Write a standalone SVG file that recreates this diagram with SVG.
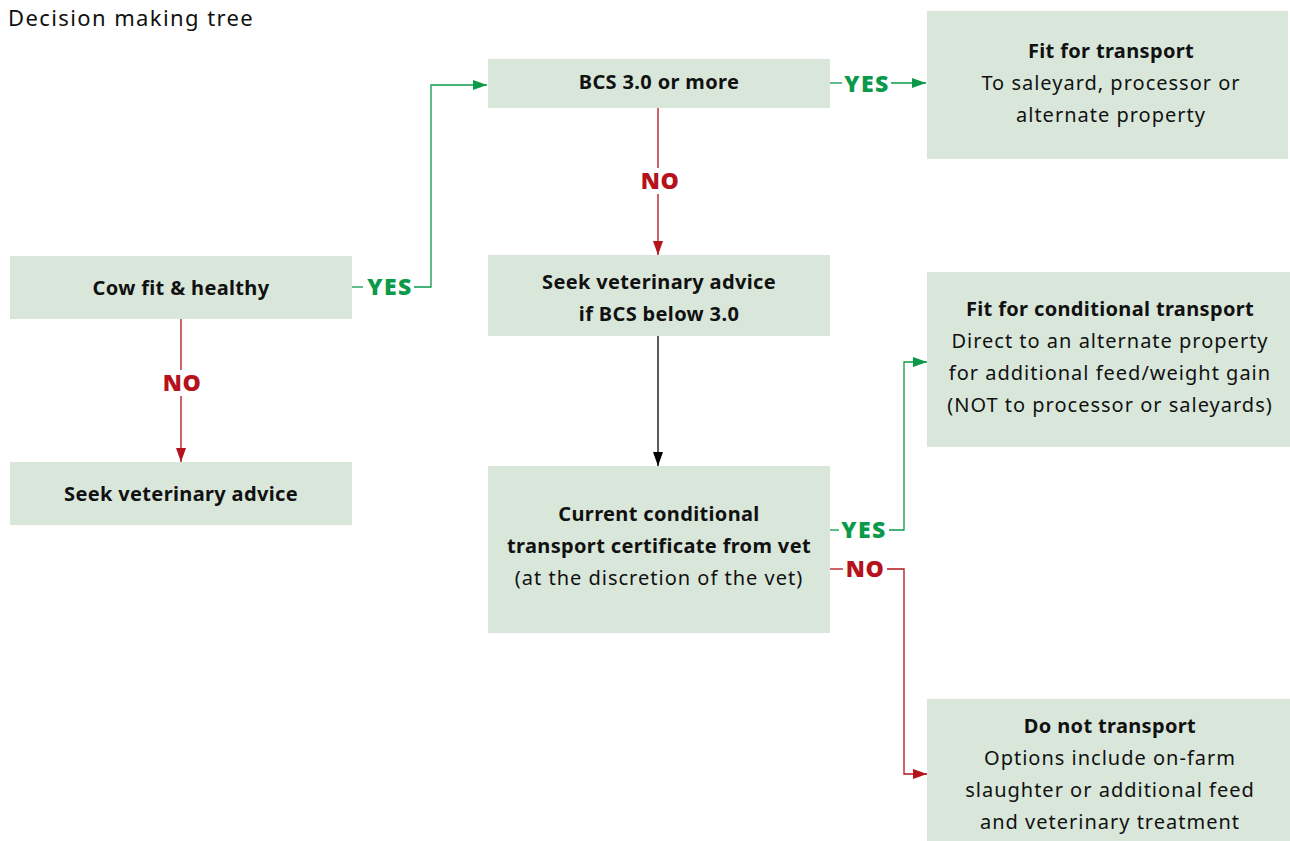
<svg xmlns="http://www.w3.org/2000/svg" width="1290" height="841" viewBox="0 0 1290 841">
<style>
.box{fill:#d9e7db}
.t{font-family:"Noto Sans","Open Sans",sans-serif;font-size:20px;fill:#111;text-anchor:middle;letter-spacing:1px}
.b{font-weight:bold;letter-spacing:0.35px}
.g{stroke:#0a9a4a;stroke-width:1.3;fill:none}
.r{stroke:#b5121b;stroke-width:1.3;fill:none}
.k{stroke:#000;stroke-width:1.3;fill:none}
.lg{font-family:"Noto Sans","Open Sans",sans-serif;font-size:23px;font-weight:900;fill:#0a9a4a;text-anchor:middle;letter-spacing:1.5px}
.lr{font-family:"Noto Sans","Open Sans",sans-serif;font-size:23px;font-weight:900;fill:#b5121b;text-anchor:middle;letter-spacing:0.5px}
</style>
<defs>
<marker id="ag" markerWidth="14" markerHeight="10" refX="14" refY="5" orient="auto" markerUnits="userSpaceOnUse"><path d="M0,0L14,5L0,10z" fill="#0a9a4a"/></marker>
<marker id="ar" markerWidth="14" markerHeight="10" refX="14" refY="5" orient="auto" markerUnits="userSpaceOnUse"><path d="M0,0L14,5L0,10z" fill="#b5121b"/></marker>
<marker id="ak" markerWidth="14" markerHeight="10" refX="14" refY="5" orient="auto" markerUnits="userSpaceOnUse"><path d="M0,0L14,5L0,10z" fill="#000"/></marker>
</defs>
<text x="8" y="26" style="font-family:'Noto Sans','Open Sans',sans-serif;font-size:22px;fill:#111;letter-spacing:1.4px">Decision making tree</text>

<g id="connectors">
<path class="g" d="M352,287H363"/>
<path class="g" d="M414,287H431V85H487" marker-end="url(#ag)"/>
<text class="lg" x="390" y="295">YES</text>
<path class="g" d="M830,83H842"/>
<path class="g" d="M891,83H926" marker-end="url(#ag)"/>
<text class="lg" x="867" y="92">YES</text>
<path class="r" d="M658,108V168"/>
<path class="r" d="M658,194V255" marker-end="url(#ar)"/>
<text class="lr" x="660" y="189">NO</text>
<path class="r" d="M181,319V370"/>
<path class="r" d="M181,396V462" marker-end="url(#ar)"/>
<text class="lr" x="182" y="391">NO</text>
<path class="k" d="M658,336V466" marker-end="url(#ak)"/>
<path class="g" d="M830,530H839"/>
<path class="g" d="M889,530H904V362H927" marker-end="url(#ag)"/>
<text class="lg" x="864" y="538">YES</text>
<path class="r" d="M830,569H843"/>
<path class="r" d="M887,569H904V774H927" marker-end="url(#ar)"/>
<text class="lr" x="865" y="577">NO</text>
</g>

<g id="cow">
<rect class="box" x="10" y="256" width="342" height="63"/>
<text class="t b" x="181" y="295">Cow fit &amp; healthy</text>
</g>
<g id="seekvet">
<rect class="box" x="10" y="462" width="342" height="63"/>
<text class="t b" x="181" y="501">Seek veterinary advice</text>
</g>
<g id="bcs">
<rect class="box" x="488" y="59" width="342" height="49"/>
<text class="t b" x="659" y="89">BCS 3.0 or more</text>
</g>
<g id="seekvetbcs">
<rect class="box" x="488" y="255" width="342" height="81"/>
<text class="t b" x="659" y="289">Seek veterinary advice</text>
<text class="t b" x="659" y="321">if BCS below 3.0</text>
</g>
<g id="current">
<rect class="box" x="488" y="466" width="342" height="167"/>
<text class="t b" x="659" y="521">Current conditional</text>
<text class="t b" x="659" y="553">transport certificate from vet</text>
<text class="t" x="659" y="585">(at the discretion of the vet)</text>
</g>
<g id="fit">
<rect class="box" x="927" y="11" width="361" height="148"/>
<text class="t b" x="1111" y="58">Fit for transport</text>
<text class="t" x="1111" y="90">To saleyard, processor or</text>
<text class="t" x="1111" y="122">alternate property</text>
</g>
<g id="fitcond">
<rect class="box" x="927" y="272" width="363" height="175"/>
<text class="t b" x="1110" y="316">Fit for conditional transport</text>
<text class="t" x="1110" y="348">Direct to an alternate property</text>
<text class="t" x="1110" y="380">for additional feed/weight gain</text>
<text class="t" x="1110" y="412">(NOT to processor or saleyards)</text>
</g>
<g id="donot">
<rect class="box" x="927" y="699" width="363" height="142"/>
<text class="t b" x="1110" y="733">Do not transport</text>
<text class="t" x="1110" y="765">Options include on-farm</text>
<text class="t" x="1110" y="797">slaughter or additional feed</text>
<text class="t" x="1110" y="829">and veterinary treatment</text>
</g>
</svg>
